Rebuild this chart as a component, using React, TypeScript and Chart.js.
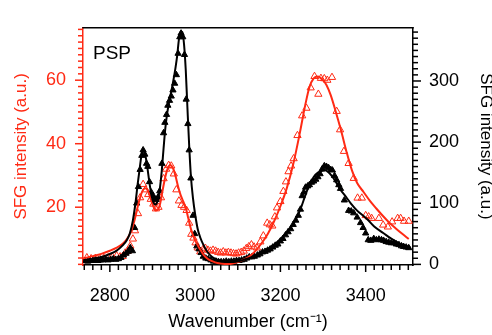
import React, { useEffect, useRef } from 'react';
import { Chart, registerables } from 'chart.js';

Chart.register(...registerables);

const RED = '#ff2a14';
const BLACK = '#000000';
const FONT = '"Liberation Sans", Arial, Helvetica, sans-serif';

// ---- data: red (left axis) open triangles ----
const redWavenumbers = [
  2746, 2756, 2766, 2776, 2786, 2796, 2806, 2816, 2824, 2830, 2836, 2842, 2848, 2854, 2859, 2866, 2871, 2878, 2884, 2890,
  2896, 2902, 2908, 2914, 2920, 2926, 2932, 2938, 2944, 2950, 2956, 2962, 2968, 2974, 2980, 2986, 2991, 2996, 3001, 3006,
  3012, 3018, 3024, 3030, 3036, 3042, 3048, 3054, 3060, 3066, 3072, 3078, 3084, 3090, 3096, 3102, 3108, 3114, 3120, 3126,
  3132, 3138, 3145, 3153, 3160, 3169, 3175, 3181, 3187, 3192, 3200, 3207, 3213, 3219, 3225, 3231, 3240, 3251, 3261, 3271,
  3280, 3289, 3295, 3303, 3310, 3321, 3332, 3340, 3349, 3360, 3372, 3381, 3391, 3400, 3407, 3414, 3431, 3441, 3452, 3462,
  3475, 3482, 3490, 3501,
];
const redIntensity = [
  4.1, 3.8, 3.9, 3.8, 3.9, 4.1, 4.3, 4.7, 4.4, 4.5, 5.6, 6.2, 7.8, 10, 12.6, 18, 23, 27.2, 25.5, 24,
  22.5, 21, 19.5, 20, 23, 29, 32, 33.2, 33, 30.5, 25.5, 22, 20.6, 20, 19, 15, 11.5, 10.3, 8.8, 7.2,
  6.0, 6.6, 7.1, 6.5, 6.2, 6.5, 6.2, 5.8, 5.6, 6.0, 5.6, 5.8, 5.6, 5.4, 5.3, 5.6, 5.8, 6.2, 7.0, 7.6,
  8.2, 7.5, 7.2, 9.1, 11, 15, 14.5, 14.1, 17, 19.8, 21.8, 25, 28, 31.2, 33, 35.3, 42.6, 48.8, 51.2, 57.6,
  61.2, 55.6, 60.6, 60.5, 60, 60.9, 50.2, 44.4, 37.6, 33.8, 29.1, 22.9, 22.9, 17.4, 17, 16.5, 16.5, 14.4, 13.8, 15.4,
  16.5, 16.5, 15.6, 15.6,
];

// ---- data: black (right axis) filled triangles ----
const blackWavenumbers = [
  2742, 2748, 2754, 2760, 2766, 2772, 2778, 2784, 2790, 2796, 2802, 2808, 2814, 2820, 2826, 2832, 2838, 2843, 2848, 2853,
  2858, 2863, 2867, 2871, 2875, 2878, 2882, 2886, 2889, 2893, 2897, 2901, 2905, 2909, 2913, 2917, 2922, 2926, 2929, 2933,
  2936, 2940, 2944, 2948, 2952, 2956, 2960, 2964, 2967, 2971, 2975, 2979, 2983, 2986, 2990, 2995, 2999, 3004, 3009, 3014,
  3019, 3025, 3031, 3037, 3043, 3049, 3055, 3061, 3067, 3073, 3079, 3085, 3091, 3097, 3103, 3109, 3115, 3121, 3127, 3133,
  3139, 3146, 3152, 3158, 3164, 3170, 3176, 3182, 3188, 3194, 3200, 3206, 3212, 3218, 3224, 3230, 3236, 3242, 3247, 3251,
  3255, 3259, 3264, 3268, 3273, 3278, 3283, 3288, 3293, 3298, 3303, 3308, 3313, 3318, 3322, 3327, 3332, 3337, 3341, 3350,
  3360, 3366, 3372, 3380, 3388, 3394, 3400, 3406, 3412, 3419, 3425, 3431, 3437, 3442, 3448, 3454, 3460, 3466, 3472, 3478,
  3484, 3489, 3495, 3501,
];
const blackIntensity = [
  6, 5, 6, 6, 7, 6, 7, 7, 8, 7, 8, 9, 8, 9, 11, 15, 18, 21, 27, 22,
  60, 100, 127, 155, 178, 187, 180, 165, 160, 135, 118, 112, 108, 106, 110, 120, 165, 215, 232, 245,
  260, 268, 275, 285, 296, 310, 345, 372, 378, 372, 343, 270, 230, 187, 141, 80, 50, 30, 25, 19,
  13, 10, 9, 7, 5, 5, 4, 4, 4, 5, 4, 5, 5, 6, 6, 7, 8, 10, 12, 12,
  13, 15, 17, 20, 21, 23, 25, 28, 31, 33, 38, 42, 48, 53, 58, 65, 72, 80, 90, 112,
  118, 126, 128, 130, 134, 136, 139, 143, 148, 156, 161, 160, 158, 155, 154, 145, 138, 130, 124, 105,
  88, 87, 84, 77, 68, 60, 51, 40, 39, 42, 40, 41, 40, 39, 37, 36, 35, 35, 33, 32,
  30, 29, 28, 27,
];

// ---- fitted curves ----
const redFitWavenumbers = [
  2737, 2760, 2780, 2800, 2815, 2830, 2840, 2850, 2858, 2865, 2872, 2878, 2884, 2890, 2896, 2902, 2907, 2912, 2918, 2924,
  2930, 2936, 2942, 2948, 2954, 2960, 2966, 2972, 2978, 2984, 2990, 2996, 3002, 3010, 3020, 3030, 3040, 3052, 3064, 3075,
  3088, 3100, 3112, 3125, 3140, 3155, 3170, 3185, 3200, 3215, 3230, 3245, 3258, 3268, 3278, 3288, 3298, 3308, 3318, 3330,
  3342, 3355, 3368, 3380, 3395, 3410, 3425, 3440, 3455, 3470, 3485, 3501,
];
const redFitIntensity = [
  3.9, 4.6, 5.3, 6.3, 7.2, 8.5, 10, 12.5, 16, 20, 23.5, 25.5, 26, 25, 22.5, 20.3, 19, 19.2, 21.2, 25.5,
  29.5, 32.3, 33.2, 32.3, 29.8, 26.5, 23.8, 21.8, 19.8, 16.5, 13.2, 10.8, 9, 7.1, 5, 3.7, 3, 2.4, 2.2, 2.1,
  2.3, 2.7, 3.4, 4.3, 6, 8.5, 11.5, 15.5, 20.3, 26, 33.5, 43, 52, 57.8, 60.6, 61.2, 60.3, 58.5, 55.3, 50,
  44.3, 37.5, 31.5, 27.6, 24.8, 22, 19.6, 17.3, 15.2, 13.4, 11.7, 10,
];
const blackFitWavenumbers = [
  2740, 2760, 2780, 2800, 2815, 2830, 2840, 2847, 2854, 2860, 2865, 2870, 2874, 2878, 2882, 2886, 2890, 2894, 2898, 2902,
  2906, 2910, 2914, 2918, 2922, 2926, 2930, 2934, 2938, 2942, 2946, 2950, 2954, 2958, 2962, 2966, 2970, 2974, 2978, 2982,
  2986, 2990, 2995, 3000, 3006, 3012, 3020, 3028, 3040, 3051, 3065, 3080, 3090, 3106, 3120, 3135, 3146, 3160, 3175, 3190,
  3205, 3220, 3235, 3248, 3258, 3268, 3278, 3288, 3298, 3305, 3312, 3320, 3330, 3340, 3352, 3365, 3380, 3395, 3405, 3420,
  3442, 3460, 3480, 3495, 3506,
];
const blackFitIntensity = [
  6, 9, 12, 17, 22, 31, 40, 51, 72, 100, 130, 157, 178, 188, 182, 168, 148, 128, 112, 102,
  98, 100, 110, 128, 155, 190, 222, 245, 262, 276, 290, 305, 322, 342, 368, 381, 380, 360, 318, 255,
  195, 145, 108, 82, 58, 44, 31, 21, 12, 8, 5, 4, 4, 6, 9, 12, 15, 20, 27, 35,
  45, 56, 72, 92, 112, 130, 143, 150, 153, 154, 151, 145, 135, 123, 112, 100, 88, 79, 73, 62,
  51, 42, 34, 30, 27,
];

// ---- axes ----
const xMin = 2737;
const xMax = 3511;
const leftMin = 1.8;
const leftMax = 76.5;
const rightMin = -1;
const rightMax = 387;
const xMajorTicks = [2800, 3000, 3200, 3400];
const leftMajorTicks = [20, 40, 60];
const rightMajorTicks = [0, 100, 200, 300];
const xMinorStep = 20;
const leftMinorStep = 2;
const rightMinorStep = 10;
const xTitle = 'Wavenumber (cm\u207B\u00B9)';
const leftTitle = 'SFG intensity (a.u.)';
const rightTitle = 'SFG intensity (a.u.)';
const panelLabel = 'PSP';

const pairs = (xs: number[], ys: number[]) => xs.map((x, i) => ({ x, y: ys[i] }));

const framePlugin = {
  id: 'frame',
  afterDraw(chart: any) {
    const { ctx, chartArea: a, scales } = chart;
    ctx.save();
    ctx.lineWidth = 1.5;
    const seg = (x1: number, y1: number, x2: number, y2: number, c: string) => {
      ctx.strokeStyle = c;
      ctx.beginPath();
      ctx.moveTo(x1, y1);
      ctx.lineTo(x2, y2);
      ctx.stroke();
    };
    seg(a.left - 0.75, a.top, a.right + 0.75, a.top, BLACK);
    const sx = scales.x;
    for (let v = Math.ceil(xMin / xMinorStep) * xMinorStep; v <= xMax; v += xMinorStep) {
      const p = sx.getPixelForValue(v);
      const len = xMajorTicks.includes(v) ? 7 : 5;
      seg(p, a.bottom, p, a.bottom + len, BLACK);
    }
    const sl = scales.y;
    for (let v = Math.ceil(leftMin / leftMinorStep) * leftMinorStep; v <= leftMax; v += leftMinorStep) {
      const p = sl.getPixelForValue(v);
      const len = leftMajorTicks.includes(v) ? 8 : 5;
      seg(a.left, p, a.left - len, p, RED);
    }
    const sr = scales.y2;
    for (let v = Math.ceil(rightMin / rightMinorStep) * rightMinorStep; v <= rightMax; v += rightMinorStep) {
      const p = sr.getPixelForValue(v);
      const len = rightMajorTicks.includes(v) ? 8 : 5;
      seg(a.right, p, a.right + len, p, BLACK);
    }
    ctx.fillStyle = BLACK;
    ctx.font = `19px ${FONT}`;
    ctx.textBaseline = 'alphabetic';
    ctx.textAlign = 'left';
    ctx.fillText(panelLabel, a.left + 10, a.top + 31);
    ctx.restore();
  },
};

export default function App() {
  const ref = useRef<HTMLCanvasElement | null>(null);
  useEffect(() => {
    document.body.style.margin = '0';
    const canvas = ref.current;
    if (!canvas) return;
    const chart = new Chart(canvas, {
      type: 'line',
      data: {
        datasets: [
          {
            label: 'black fit',
            data: pairs(blackFitWavenumbers, blackFitIntensity),
            yAxisID: 'y2',
            borderColor: BLACK,
            borderWidth: 2,
            pointRadius: 0,
            cubicInterpolationMode: 'monotone',
            fill: false,
            order: 0,
          },
          {
            label: 'red fit',
            data: pairs(redFitWavenumbers, redFitIntensity),
            yAxisID: 'y',
            borderColor: RED,
            borderWidth: 2,
            pointRadius: 0,
            cubicInterpolationMode: 'monotone',
            fill: false,
            order: 1,
          },
          {
            label: 'black data',
            data: pairs(blackWavenumbers, blackIntensity),
            yAxisID: 'y2',
            showLine: false,
            pointStyle: 'triangle',
            pointRadius: 3.6,
            pointBackgroundColor: BLACK,
            pointBorderColor: BLACK,
            pointBorderWidth: 1,
            order: 2,
          },
          {
            label: 'red data',
            data: pairs(redWavenumbers, redIntensity),
            yAxisID: 'y',
            showLine: false,
            pointStyle: 'triangle',
            pointRadius: 4.2,
            pointBackgroundColor: 'rgba(0,0,0,0)',
            pointBorderColor: RED,
            pointBorderWidth: 1,
            order: 3,
          },
        ],
      },
      options: {
        animation: false,
        responsive: false,
        devicePixelRatio: 1,
        layout: { padding: { top: 11, left: 0, right: 0, bottom: 0 } },
        plugins: { legend: { display: false }, tooltip: { enabled: false } },
        elements: { line: { tension: 0 } },
        scales: {
          x: {
            type: 'linear',
            min: xMin,
            max: xMax,
            afterFit: (s: any) => { s.height = 70; },
            afterBuildTicks: (s: any) => { s.ticks = xMajorTicks.map((v) => ({ value: v })); },
            grid: { display: true, drawOnChartArea: false, drawTicks: false },
            border: { display: true, color: BLACK, width: 1.5 },
            ticks: {
              autoSkip: false,
              maxRotation: 0,
              padding: 20,
              color: BLACK,
              font: { family: FONT, size: 18 },
              callback: (v: any) => String(v),
            },
            title: {
              display: true,
              text: xTitle,
              color: BLACK,
              font: { family: FONT, size: 18 },
              padding: { top: 0, bottom: 2 },
            },
          },
          y: {
            type: 'linear',
            position: 'left',
            min: leftMin,
            max: leftMax,
            afterFit: (s: any) => { s.width = 83; },
            afterBuildTicks: (s: any) => { s.ticks = leftMajorTicks.map((v) => ({ value: v })); },
            grid: { display: true, drawOnChartArea: false, drawTicks: false },
            border: { display: true, color: RED, width: 1.5 },
            ticks: {
              padding: 17,
              color: RED,
              font: { family: FONT, size: 18 },
              callback: (v: any) => String(v),
            },
            title: {
              display: true,
              text: leftTitle,
              color: RED,
              font: { family: FONT, size: 17 },
              padding: { top: 11, bottom: 0 },
            },
          },
          y2: {
            type: 'linear',
            position: 'right',
            min: rightMin,
            max: rightMax,
            afterFit: (s: any) => { s.width = 79; },
            afterBuildTicks: (s: any) => { s.ticks = rightMajorTicks.map((v) => ({ value: v })); },
            grid: { display: true, drawOnChartArea: false, drawTicks: false },
            border: { display: true, color: BLACK, width: 1.5 },
            ticks: {
              padding: 16,
              color: BLACK,
              font: { family: FONT, size: 18 },
              callback: (v: any) => String(v),
            },
            title: {
              display: true,
              text: rightTitle,
              color: BLACK,
              font: { family: FONT, size: 17, lineHeight: 0.76 },
              padding: { top: 0, bottom: 0 },
            },
          },
        },
      },
      plugins: [framePlugin],
    });
    return () => chart.destroy();
  }, []);
  return (
    <div style={{ position: 'fixed', left: 0, top: 0, width: 492, height: 335 }}>
      <canvas ref={ref} width={492} height={335} style={{ width: 492, height: 335, display: 'block' }} />
    </div>
  );
}
